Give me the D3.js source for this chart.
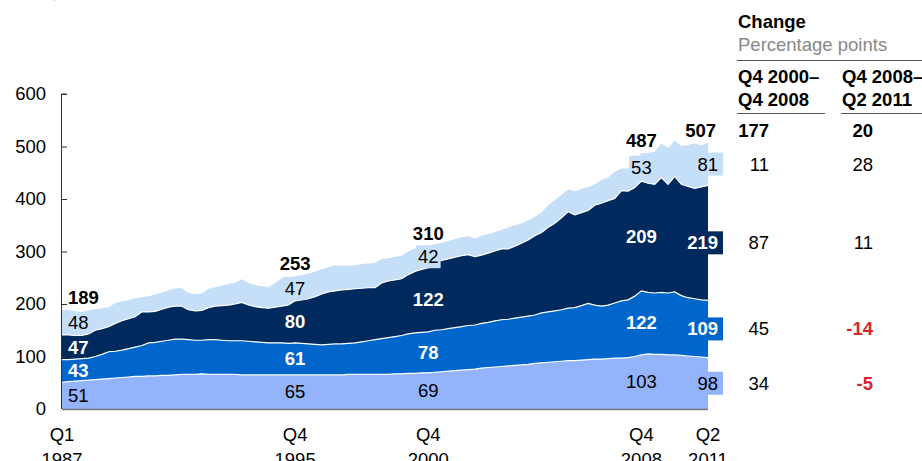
<!DOCTYPE html>
<html>
<head>
<meta charset="utf-8">
<script src="https://cdn.jsdelivr.net/npm/d3@7"></script>
<style>
  body { margin: 0; background: #fff; }
  svg { font-family: "Liberation Sans", Arial, sans-serif; }
</style>
</head>
<body>
<svg id="chart" width="922" height="461"></svg>
<script>
// quarterly values, Q1 1987 .. Q2 2011
var quarters = d3.range(98);
var s1 = [51,52,53,54,55,56,57,58,59,60,61,62,62,63,63,64,64,65,66,66,66,67,66,66,66,66,66,65,65,65,
          65,65,65,65,65,65,65,65,65,65,65,65,65,66,66,66,66,66,66,66,67,67,68,68,69,69,70,71,72,73,
          74,75,76,78,79,80,81,82,83,84,85,87,88,89,90,91,92,92,93,94,95,95,96,97,97,98,100,103,105,104,
          104,103,103,102,101,100,99,98];
var s2 = [43,42,42,42,42,44,47,51,51,52,54,56,59,63,64,65,67,68,67,66,65,64,66,66,65,64,64,65,64,63,
          62,61,61,61,60,61,60,59,58,57,58,59,59,59,60,62,64,66,68,70,71,73,75,77,77,78,80,80,81,82,
          83,84,84,85,86,88,89,89,90,91,92,92,95,96,97,98,100,101,104,107,103,101,102,105,109,110,115,122,117,117,
          118,118,120,114,111,110,109,109];
var s3 = [47,47,45,44,46,50,49,48,53,56,57,58,64,59,59,61,63,63,63,57,56,57,61,64,66,68,70,73,69,67,
          66,66,68,70,73,80,83,86,91,97,100,101,103,103,103,102,101,99,106,108,108,108,113,117,120,122,128,132,133,134,
          135,135,130,130,132,133,135,134,137,141,145,151,153,161,167,175,184,177,177,177,190,196,199,199,210,207,207,209,208,207,
          219,207,220,212,212,210,215,219];
var s4 = [48,47,46,45,45,40,39,37,39,37,35,35,28,30,32,32,32,34,34,32,32,32,36,36,38,40,41,44,42,41,
          41,40,46,53,52,47,47,48,48,47,47,49,46,45,45,46,46,47,46,43,44,44,44,44,42,42,36,33,34,35,
          35,35,35,37,36,36,36,41,40,38,37,36,39,42,44,44,42,45,45,45,40,44,44,51,42,43,48,53,58,62,
          65,69,68,73,79,86,79,81];

var keys = ["s1","s2","s3","s4"];
var colors = ["#93b3fb","#0066cc","#002a5e","#c6dff9"];
var labelColors = ["#000","#fff","#fff","#000"];
var labelWeights = ["normal","bold","bold","normal"];

var labelIdx = [0, 35, 55, 87, 97];
var totalLabels = [189, 253, 310, 487, 507];
var xTickLabels = [["Q1","1987"],["Q4","1995"],["Q4","2000"],["Q4","2008"],["Q2","2011"]];
var yTicks = [0,100,200,300,400,500,600];

// change table
var colHeads = [["Q4 2000–","Q4 2008"],["Q4 2008–","Q2 2011"]];
var change1 = [177, 11, 87, 45, 34];   // total, s4, s3, s2, s1
var change2 = [20, 28, 11, -14, -5];

var fs = 18.5;

var rows = quarters.map(function(i){
    return {i: i, s1: s1[i], s2: s2[i], s3: s3[i], s4: s4[i]};
});
var stack = d3.stack().keys(keys)(rows);

var svg = d3.select("#chart");
var x = d3.scaleLinear().domain([0, 97]).range([62, 708]);
var y = d3.scaleLinear().domain([0, 600]).range([409, 94]);

// clipped unit line at top
svg.append("text").attr("x", 13).attr("y", -2).attr("font-size", fs)
    .attr("fill", "#999").text("Debt, % of GDP");

var area = d3.area()
    .x(function(d){ return x(d.data.i); })
    .y0(function(d){ return y(d[0]); })
    .y1(function(d){ return y(d[1]); });
var topLine = d3.line()
    .x(function(d){ return x(d.data.i); })
    .y(function(d){ return y(d[1]); });

svg.selectAll("path.layer").data(stack).enter().append("path")
    .attr("class", "layer")
    .attr("d", area)
    .attr("fill", function(d, k){ return colors[k]; });

svg.selectAll("path.sep").data(stack.slice(0, 3)).enter().append("path")
    .attr("class", "sep")
    .attr("d", topLine)
    .attr("fill", "none")
    .attr("stroke", "#fff")
    .attr("stroke-width", 1.2);

// axes
var yAxis = d3.axisLeft(y).tickValues(yTicks).tickSize(-5).tickPadding(16);
var gy = svg.append("g").attr("transform", "translate(62,0)").call(yAxis);
gy.selectAll("text").attr("font-size", fs).attr("fill", "#000").attr("font-family", null);
gy.selectAll("line").attr("stroke", "#333");
gy.select(".domain").attr("stroke", "#333").attr("d", "M-0.5," + y(600) + "H4.5M-0.5," + y(600) + "V" + y(0));

svg.append("line").attr("x1", 62).attr("x2", x(97)).attr("y1", y(0) + 0.5).attr("y2", y(0) + 0.5)
    .attr("stroke", "#777").attr("stroke-width", 1.5);

var xl = svg.selectAll("g.xl").data(labelIdx).enter().append("g")
    .attr("transform", function(d){ return "translate(" + x(d) + ",0)"; });
xl.append("text").attr("y", 441).attr("text-anchor", "middle").attr("font-size", fs)
    .text(function(d, k){ return xTickLabels[k][0]; });
xl.append("text").attr("y", 466).attr("text-anchor", "middle").attr("font-size", fs)
    .text(function(d, k){ return xTickLabels[k][1]; });

// band labels
function labelX(k){
    if (k === 0) return x(labelIdx[0]) + 6;
    if (k === labelIdx.length - 1) return x(labelIdx[k]) + 10;
    return x(labelIdx[k]);
}
function anchor(k){
    if (k === 0) return "start";
    if (k === labelIdx.length - 1) return "end";
    return "middle";
}
labelIdx.forEach(function(qi, k){
    stack.forEach(function(layer, s){
        var d = layer[qi];
        var cy = (y(d[0]) + y(d[1])) / 2;
        var t = svg.append("text")
            .attr("x", labelX(k)).attr("y", cy + 6.5)
            .attr("text-anchor", anchor(k))
            .attr("font-size", fs)
            .attr("font-weight", labelWeights[s])
            .attr("fill", labelColors[s])
            .text(layer.key === "s1" ? s1[qi] : layer.key === "s2" ? s2[qi] : layer.key === "s3" ? s3[qi] : s4[qi]);
        var boxed = (k === labelIdx.length - 1) || (s === 3 && k > 0);
        if (boxed) {
            var bb = t.node().getBBox();
            svg.insert("rect", function(){ return t.node(); })
                .attr("x", bb.x - 2).attr("y", cy - 11.5)
                .attr("width", bb.width + 4 + (k === labelIdx.length - 1 ? 3 : 0))
                .attr("height", 23)
                .attr("fill", colors[s]);
        }
    });
    var tot = stack[3][qi][1];
    svg.append("text")
        .attr("x", labelX(k) + (k === labelIdx.length - 1 ? -2 : 0)).attr("y", y(tot) - 6)
        .attr("text-anchor", anchor(k))
        .attr("font-size", fs).attr("font-weight", "bold")
        .text(totalLabels[k]);
});

// change table
svg.append("text").attr("x", 738).attr("y", 28).attr("font-size", fs).attr("font-weight", "bold").text("Change");
svg.append("text").attr("x", 738).attr("y", 51).attr("font-size", fs).attr("fill", "#888").text("Percentage points");
svg.append("line").attr("x1", 737).attr("x2", 922).attr("y1", 60.5).attr("y2", 60.5).attr("stroke", "#555");

var colX = [738, 842];
var colEnd = [825, 922];
var valRight = [769, 873];
colHeads.forEach(function(h, c){
    svg.append("text").attr("x", colX[c]).attr("y", 83).attr("font-size", fs).attr("font-weight", "bold").text(h[0]);
    svg.append("text").attr("x", colX[c]).attr("y", 106).attr("font-size", fs).attr("font-weight", "bold").text(h[1]);
    svg.append("line").attr("x1", colX[c] - 1).attr("x2", colEnd[c]).attr("y1", 113.5).attr("y2", 113.5).attr("stroke", "#555");
});

var q = labelIdx[labelIdx.length - 1];
var rowY = [y(stack[3][q][1]) - 12];
[3, 2, 1, 0].forEach(function(s){
    var d = stack[s][q];
    rowY.push((y(d[0]) + y(d[1])) / 2);
});
[change1, change2].forEach(function(vals, c){
    vals.forEach(function(v, r){
        svg.append("text")
            .attr("x", valRight[c]).attr("y", rowY[r] + 6.5)
            .attr("text-anchor", "end")
            .attr("font-size", fs)
            .attr("font-weight", (r === 0 || v < 0) ? "bold" : "normal")
            .attr("fill", v < 0 ? "#d7262e" : "#000")
            .text(v);
    });
});
</script>
</body>
</html>
